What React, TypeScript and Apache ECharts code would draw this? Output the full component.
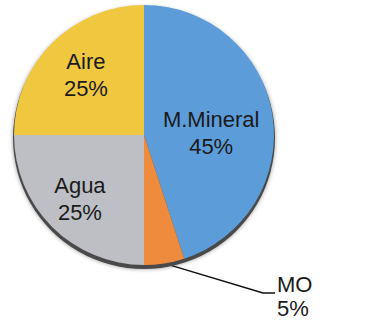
import React, { useEffect, useRef } from "react";
import * as echarts from "echarts";

const categories = ["M.Mineral", "MO", "Agua", "Aire"];
const values = [45, 5, 25, 25];
const colors = ["#5C9DD9", "#EE8B3C", "#BEBFC4", "#F0C840"];
const labelOffsets: number[][] = [[0, 9], [0, 0], [-16, 16], [-10, -12]];

export default function App() {
  const ref = useRef<HTMLDivElement>(null);
  useEffect(() => {
    document.body.style.margin = "0";
    const chart = echarts.init(ref.current!, null, { renderer: "svg" });
    const data = categories.map((name, i) => ({
      name,
      value: values[i],
      itemStyle: { color: colors[i] },
      label:
        name === "MO"
          ? { position: "outside", align: "left", lineHeight: 24 }
          : { position: "inside", offset: labelOffsets[i] },
      labelLine: { show: name === "MO" },
    }));
    chart.setOption({
      animation: false,
      backgroundColor: "#ffffff",
      series: [
        {
          type: "pie",
          silent: true,
          center: [144, 138],
          radius: [0, 131],
          data: [{ value: 1, name: "" }],
          itemStyle: {
            color: "#4a4a4a",
            shadowBlur: 4,
            shadowColor: "rgba(0,0,0,0.4)",
          },
          label: { show: false },
          labelLine: { show: false },
        },
        {
          type: "pie",
          center: [144, 135],
          radius: [0, 130],
          startAngle: 90,
          clockwise: true,
          data,
          itemStyle: { borderWidth: 0 },
          label: {
            show: true,
            formatter: "{b}\n{c}%",
            fontFamily: "Liberation Sans, Arial, sans-serif",
            fontSize: 22,
            lineHeight: 27,
            color: "#1a1a1a",
          },
          labelLine: {
            show: true,
            lineStyle: { color: "#111", width: 1.5 },
            length: 10,
            length2: 10,
          },
          labelLayout: (params: any) => {
            if (params.dataIndex !== 1) return {};
            const pts = params.labelLinePoints;
            const start = pts && pts[0] ? pts[0] : [164, 263];
            return {
              x: 277,
              y: 296,
              align: "left",
              verticalAlign: "middle",
              labelLinePoints: [start, [263, 293], [275, 293]],
            };
          },
        },
      ],
    });
    return () => chart.dispose();
  }, []);
  return <div ref={ref} style={{ width: 376, height: 321 }} />;
}
